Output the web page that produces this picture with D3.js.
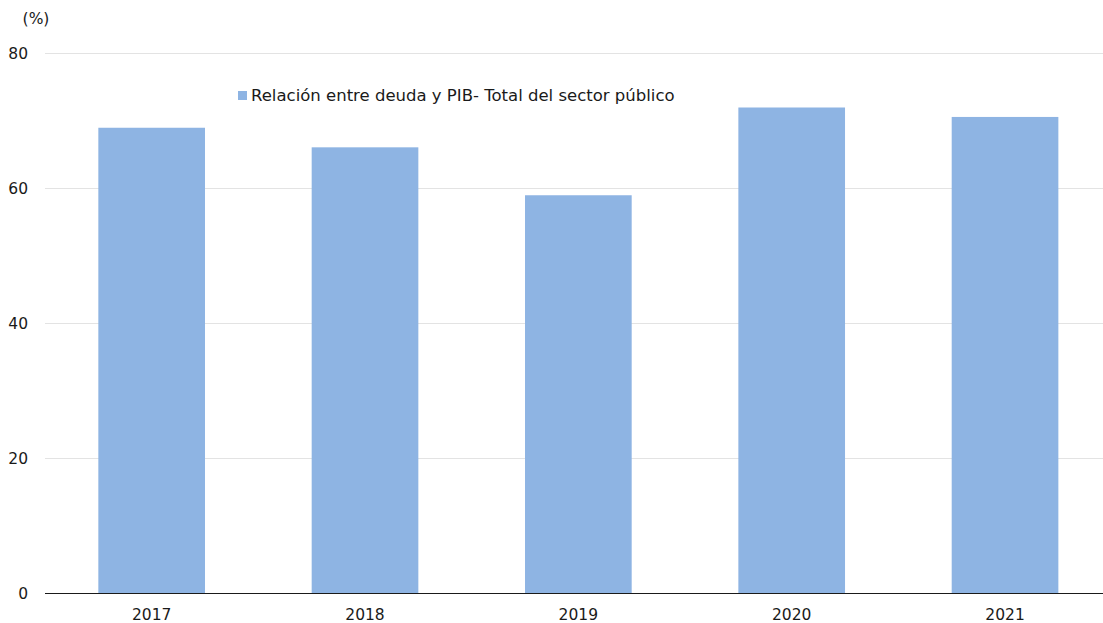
<!DOCTYPE html>
<html>
<head>
<meta charset="utf-8">
<script src="https://cdn.jsdelivr.net/npm/d3@7.9.0/dist/d3.min.js"></script>
<style>
  body { margin: 0; background: #fff; }
  text { font-family: "DejaVu Sans", Verdana, sans-serif; fill: #1a1a1a; }
</style>
</head>
<body>
<svg id="chart" width="1103" height="623"></svg>
<script>
const years = ["2017", "2018", "2019", "2020", "2021"];
const debtRatio = [69.0, 66.1, 59.0, 72.0, 70.6];
const yTicks = [0, 20, 40, 60, 80];
const seriesName = "Relación entre deuda y PIB- Total del sector público";
const unitLabel = "(%)";

const svg = d3.select("#chart");
const W = 1103;
const plotTop = 53.5, plotBottom = 593.5, plotLeft = 45;

const x = d3.scaleBand().domain(years).range([plotLeft, 1111.7])
  .paddingInner(0.5).paddingOuter(0.25);
const y = d3.scaleLinear().domain([0, 80]).range([plotBottom, plotTop]);

// gridlines
svg.append("g").selectAll("line")
  .data(yTicks.filter(d => d > 0))
  .join("line")
  .attr("x1", plotLeft).attr("x2", W)
  .attr("y1", d => y(d)).attr("y2", d => y(d))
  .attr("stroke", "#e3e3e3").attr("stroke-width", 1);

// y labels
svg.append("g").selectAll("text")
  .data(yTicks)
  .join("text")
  .attr("x", 28).attr("y", d => y(d))
  .attr("dy", "0.35em")
  .attr("text-anchor", "end")
  .attr("font-size", 15.5)
  .text(d => d);

svg.append("text")
  .attr("x", 36).attr("y", 24)
  .attr("text-anchor", "middle")
  .attr("font-size", 15.5)
  .text(unitLabel);

// bars
svg.append("g").selectAll("rect")
  .data(debtRatio)
  .join("rect")
  .attr("x", (d, i) => x(years[i]))
  .attr("width", x.bandwidth())
  .attr("y", d => y(d))
  .attr("height", d => y(0) - y(d))
  .attr("fill", "#8eb4e3");

// x axis line
svg.append("line")
  .attr("x1", plotLeft).attr("x2", W)
  .attr("y1", plotBottom).attr("y2", plotBottom)
  .attr("stroke", "#1a1a1a").attr("stroke-width", 1.2);

svg.append("g").selectAll("text")
  .data(years)
  .join("text")
  .attr("x", d => x(d) + x.bandwidth() / 2)
  .attr("y", 620)
  .attr("text-anchor", "middle")
  .attr("font-size", 15.5)
  .text(d => d);

// legend
const lg = svg.append("g").attr("transform", "translate(238,91)");
lg.append("rect").attr("width", 9).attr("height", 9).attr("fill", "#8eb4e3");
lg.append("text").attr("x", 13).attr("y", 4.5).attr("dy", "0.35em")
  .attr("font-size", 16.5).text(seriesName);
</script>
</body>
</html>
